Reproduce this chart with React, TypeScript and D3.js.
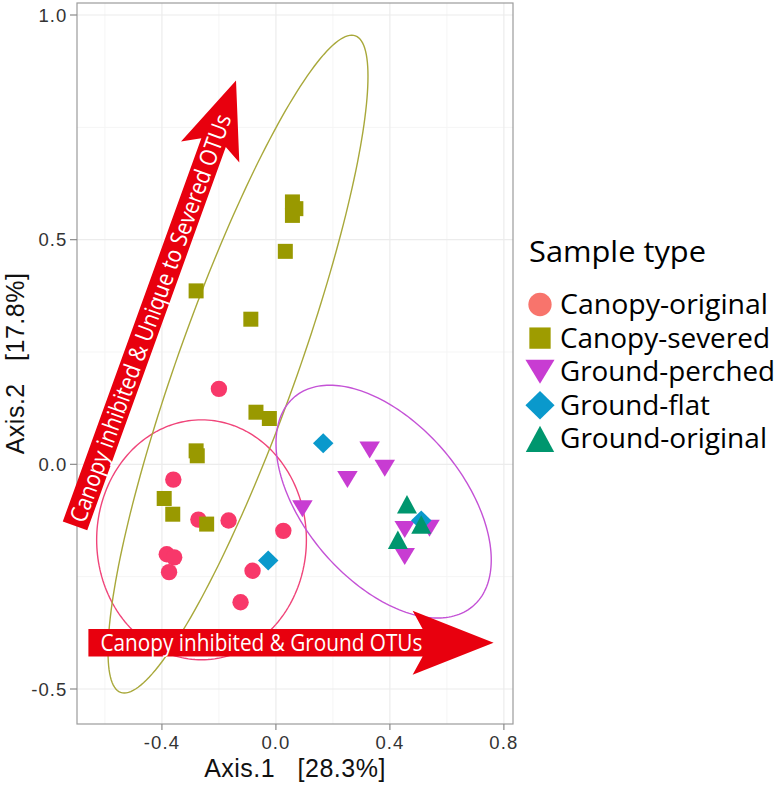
import React from 'react';
import * as d3 from 'd3';

// ---------- data ----------
const seriesNames = ['Canopy-original', 'Canopy-severed', 'Ground-perched', 'Ground-flat', 'Ground-original'];

const canopyOriginal: [number, number][] = [
  [-0.200, 0.168], [-0.360, -0.034], [-0.272, -0.123], [-0.166, -0.125], [0.026, -0.148],
  [-0.383, -0.200], [-0.357, -0.207], [-0.375, -0.240], [-0.082, -0.237], [-0.124, -0.307],
];
const canopySevered: [number, number][] = [
  [0.058, 0.584], [0.058, 0.554], [0.070, 0.569], [0.033, 0.474], [-0.280, 0.386],
  [-0.088, 0.323], [-0.070, 0.116], [-0.023, 0.102], [-0.280, 0.030], [-0.276, 0.019],
  [-0.392, -0.076], [-0.362, -0.111], [-0.243, -0.133],
];
const groundPerched: [number, number][] = [
  [0.093, -0.099], [0.329, 0.032], [0.382, -0.009], [0.251, -0.034],
  [0.452, -0.145], [0.539, -0.142], [0.452, -0.205],
];
const groundFlat: [number, number][] = [[0.166, 0.047], [-0.027, -0.214], [0.510, -0.125]];
const groundOriginal: [number, number][] = [[0.460, -0.089], [0.510, -0.134], [0.428, -0.168]];

const xTicks = [-0.4, 0.0, 0.4, 0.8];
const yTicks = [-0.5, 0.0, 0.5, 1.0];
const xMinor = [-0.6, -0.2, 0.2, 0.6];
const yMinor = [-0.25, 0.25, 0.75];

const xTitle = 'Axis.1   [28.3%]';
const yTitle = 'Axis.2   [17.8%]';
const legendTitle = 'Sample type';

// ellipses (Canopy-original, Canopy-severed, Ground-perched): center + conjugate semi-diameters
const ellipseCenters: [number, number][] = [[-0.261, -0.168], [-0.133, 0.223], [0.378, -0.083]];
const ellipseAxisA: [number, number][] = [[0, 0.267], [0.399, 0.732], [-0.189, 0.259]];
const ellipseAxisB: [number, number][] = [[0.368, 0], [0.221, 0], [0.327, 0]];

// annotation arrows
const arrowLabels = ['Canopy inhibited & Unique to Severed OTUs', 'Canopy inhibited & Ground OTUs'];
const arrowStarts: [number, number][] = [[-0.705, -0.137], [-0.658, -0.397]];
const arrowEnds: [number, number][] = [[-0.140, 0.854], [0.764, -0.397]];

// ---------- styles ----------
const W = 780, H = 786;
const panel = { left: 77, right: 513, top: 3, bottom: 724 };
const pointColors = ['#F8386A', '#999900', '#C83CD2', '#0A99CC', '#00966E'];
const legendColors = ['#F8746C', '#9E9C00', '#C83CD2', '#0A99CC', '#00966E'];
const ellipseColors = ['#F0457A', '#A8A83A', '#C452D6'];
const arrowRed = '#E8000E';

const x = d3.scaleLinear().domain([-0.698, 0.832]).range([panel.left, panel.right]);
const y = d3.scaleLinear().domain([-0.5779, 1.0267]).range([panel.bottom, panel.top]);

function marker(kind: number, cx: number, cy: number, s: number, fill: string, key: string) {
  if (kind === 0) return <circle key={key} cx={cx} cy={cy} r={8.2 * s} fill={fill} />;
  if (kind === 1) {
    const a = 15 * s;
    return <rect key={key} x={cx - a / 2} y={cy - a / 2} width={a} height={a} fill={fill} />;
  }
  if (kind === 2) {
    const w = 20.5 * s, h = 17 * s;
    return <path key={key} d={`M${cx - w / 2},${cy - h / 2}L${cx + w / 2},${cy - h / 2}L${cx},${cy + h / 2}Z`} fill={fill} />;
  }
  if (kind === 3) {
    const w = 20.5 * s, h = 20 * s;
    return <path key={key} d={`M${cx},${cy - h / 2}L${cx + w / 2},${cy}L${cx},${cy + h / 2}L${cx - w / 2},${cy}Z`} fill={fill} />;
  }
  const w = 20 * s, h = 18.5 * s;
  return <path key={key} d={`M${cx},${cy - h / 2}L${cx + w / 2},${cy + h / 2}L${cx - w / 2},${cy + h / 2}Z`} fill={fill} />;
}

const arrowGeom = [
  { shaftHW: 13, headHW: 31, headLen: 76, notch: 10, t0: 5, textLen: 432, fs: 23.5 },
  { shaftHW: 13.8, headHW: 32, headLen: 81, notch: 10, t0: 12, textLen: 322, fs: 23.5 },
];

export default function App() {
  const series = [canopyOriginal, canopySevered, groundPerched, groundFlat, groundOriginal];
  const fmt = (v: number) => d3.format('.1f')(v).replace('\u2212', '-');

  const ellipseLine = d3.line<[number, number]>().x(d => x(d[0])).y(d => y(d[1]));
  const ellipsePaths = ellipseCenters.map((c, i) => {
    const pts: [number, number][] = d3.range(0, 201).map(k => {
      const t = (k / 200) * Math.PI * 2;
      return [
        c[0] + ellipseAxisA[i][0] * Math.cos(t) + ellipseAxisB[i][0] * Math.sin(t),
        c[1] + ellipseAxisA[i][1] * Math.cos(t) + ellipseAxisB[i][1] * Math.sin(t),
      ];
    });
    return ellipseLine(pts) + 'Z';
  });

  const arrows = arrowLabels.map((label, i) => {
    const g = arrowGeom[i];
    const S = [x(arrowStarts[i][0]), y(arrowStarts[i][1])];
    const T = [x(arrowEnds[i][0]), y(arrowEnds[i][1])];
    const dx = T[0] - S[0], dy = T[1] - S[1];
    const L = Math.hypot(dx, dy);
    const ux = dx / L, uy = dy / L, nx = -uy, ny = ux;
    const p = (t: number, o: number) => [S[0] + ux * t + nx * o, S[1] + uy * t + ny * o];
    const poly = [
      p(0, -g.shaftHW), p(L - g.headLen + g.notch, -g.shaftHW), p(L - g.headLen, -g.headHW), p(L, 0),
      p(L - g.headLen, g.headHW), p(L - g.headLen + g.notch, g.shaftHW), p(0, g.shaftHW),
    ];
    const ang = (Math.atan2(uy, ux) * 180) / Math.PI;
    const tp = p(g.t0, 0);
    return (
      <g key={'arrow' + i}>
        <polygon points={poly.map(q => q.join(',')).join(' ')} fill={arrowRed} />
        <text
          transform={`translate(${tp[0]},${tp[1]}) rotate(${ang})`}
          x={0}
          y={g.fs * 0.36}
          fontFamily="'Open Sans', 'Noto Sans', sans-serif"
          fontSize={g.fs}
          fill="#ffffff"
          textLength={g.textLen}
          lengthAdjust="spacingAndGlyphs"
        >
          {label}
        </text>
      </g>
    );
  });

  const legendX = 540, legendY0 = 304.5, legendStep = 33.6;

  return (
    <svg width={W} height={H} style={{ position: 'absolute', left: 0, top: 0, background: '#fff' }}>
      <rect x={0} y={0} width={W} height={H} fill="#fff" />
      {/* grid */}
      <g>
        {xMinor.map(v => (
          <line key={'xm' + v} x1={x(v)} x2={x(v)} y1={panel.top} y2={panel.bottom} stroke="#f5f5f5" strokeWidth={1} />
        ))}
        {yMinor.map(v => (
          <line key={'ym' + v} x1={panel.left} x2={panel.right} y1={y(v)} y2={y(v)} stroke="#f5f5f5" strokeWidth={1} />
        ))}
        {xTicks.map(v => (
          <line key={'xg' + v} x1={x(v)} x2={x(v)} y1={panel.top} y2={panel.bottom} stroke="#ececec" strokeWidth={1.2} />
        ))}
        {yTicks.map(v => (
          <line key={'yg' + v} x1={panel.left} x2={panel.right} y1={y(v)} y2={y(v)} stroke="#ececec" strokeWidth={1.2} />
        ))}
      </g>
      {/* ellipses */}
      <g fill="none" strokeWidth={1.4}>
        {ellipsePaths.map((d, i) => (
          <path key={'el' + i} d={d} stroke={ellipseColors[i]} />
        ))}
      </g>
      {/* points */}
      <g>
        {series.map((pts, si) => pts.map((pt, j) => marker(si, x(pt[0]), y(pt[1]), 1, pointColors[si], `p${si}-${j}`)))}
      </g>
      {/* panel border */}
      <rect x={panel.left} y={panel.top} width={panel.right - panel.left} height={panel.bottom - panel.top} fill="none" stroke="#9c9c9c" strokeWidth={1.2} />
      {/* axes ticks */}
      <g stroke="#8a8a8a" strokeWidth={1.2}>
        {xTicks.map(v => (
          <line key={'xt' + v} x1={x(v)} x2={x(v)} y1={panel.bottom} y2={panel.bottom + 6} />
        ))}
        {yTicks.map(v => (
          <line key={'yt' + v} x1={panel.left - 7} x2={panel.left} y1={y(v)} y2={y(v)} />
        ))}
      </g>
      <g fontFamily="'Liberation Sans', Arial, sans-serif" fontSize={18.5} fill="#333" letterSpacing={1.1}>
        {xTicks.map(v => (
          <text key={'xl' + v} x={x(v)} y={749} textAnchor="middle">{fmt(v)}</text>
        ))}
        {yTicks.map(v => (
          <text key={'yl' + v} x={67.5} y={y(v) + 6.6} textAnchor="end">{fmt(v)}</text>
        ))}
      </g>
      <text x={(panel.left + panel.right) / 2} y={777} textAnchor="middle" fontFamily="'Liberation Sans', Arial, sans-serif" fontSize={25} letterSpacing={0.5} style={{ whiteSpace: 'pre' }} fill="#111">
        {xTitle}
      </text>
      <text transform={`translate(24,${(panel.top + panel.bottom) / 2}) rotate(-90)`} textAnchor="middle" fontFamily="'Liberation Sans', Arial, sans-serif" fontSize={25} letterSpacing={0.5} style={{ whiteSpace: 'pre' }} fill="#111">
        {yTitle}
      </text>
      {/* legend */}
      <g fontFamily="'Open Sans', 'Noto Sans', sans-serif">
        <text x={529} y={262} fontSize={29} fill="#000" textLength={177} lengthAdjust="spacingAndGlyphs">{legendTitle}</text>
        {seriesNames.map((name, i) => (
          <g key={'lg' + i}>
            {marker(i, legendX, legendY0 + i * legendStep, 1.42, legendColors[i], 'lm' + i)}
            <text x={560} y={legendY0 + i * legendStep + 9.5} fontSize={27.5} fill="#000" textLength={[208, 210, 215, 150, 207][i]} lengthAdjust="spacingAndGlyphs">{name}</text>
          </g>
        ))}
      </g>
      {/* arrows */}
      {arrows}
    </svg>
  );
}
